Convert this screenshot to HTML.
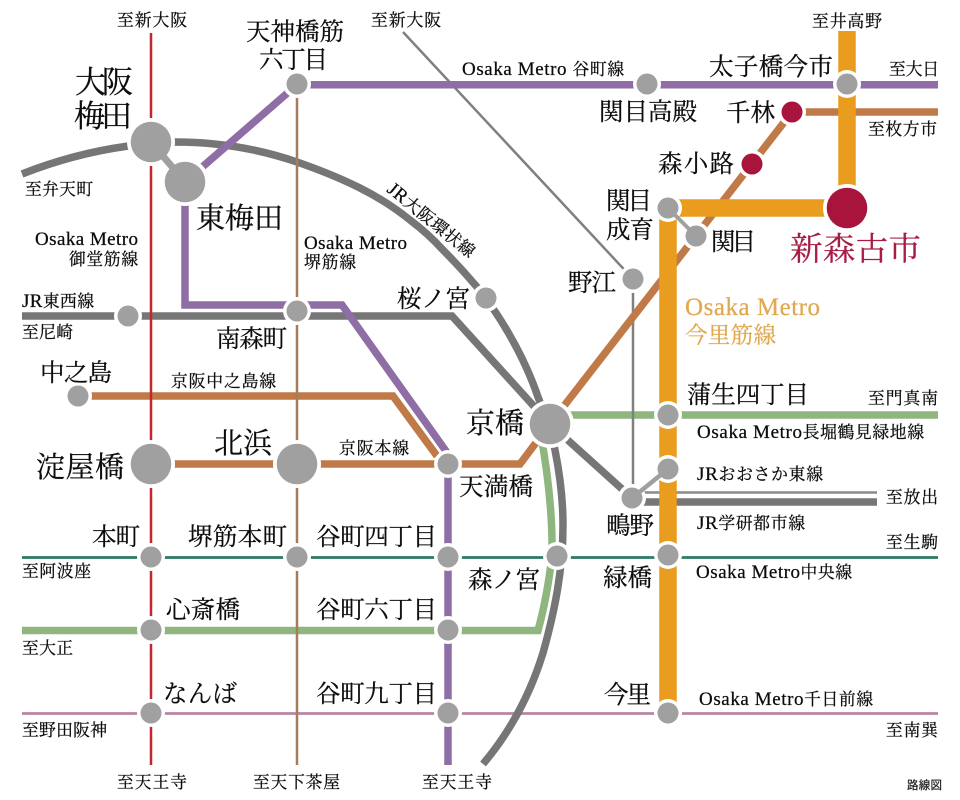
<!DOCTYPE html>
<html lang="ja"><head><meta charset="utf-8"><title>路線図</title>
<style>
html,body{margin:0;padding:0;background:#fff}
svg{display:block}
text{font-family:"Liberation Serif","Noto Serif CJK JP","Noto Serif CJK SC",serif;fill:#0c0c0c;stroke:#0c0c0c;stroke-width:.25px}
.s{font-size:16.8px}
.m{font-size:24.5px}
.l{font-size:29px}
.e{font-size:19px}
</style></head><body>
<svg xmlns="http://www.w3.org/2000/svg" width="960" height="800" viewBox="0 0 960 800">
<rect width="960" height="800" fill="#fff"/>
<g fill="none" stroke-linejoin="miter">
<path d="M22 557.5H938" stroke="#2c7a66" stroke-width="2.7"/>
<path d="M22 713.5H938" stroke="#b884a4" stroke-width="2.7"/>
<path d="M22 630.5H538 Q547 598 552 556 Q553 500 540 430" stroke="#8fb67f" stroke-width="7.5"/>
<path d="M550 415H938" stroke="#8fb67f" stroke-width="7.5"/>
<path d="M22 174C70 155 120 144 175 142C220 142 262 150 297 162C320 170 340 178 360 188C378 197 395 208 410 220C422 229 433 239 443 250C455 262 466 274 477 287C495 309 522 350 538 397C545 415 552 435 555 450C560 475 563 500 563 525C563 570 555 610 543 653C530 695 510 732 483 764" stroke="#767676" stroke-width="7.5"/>
<path d="M22 316H452L550 424L632 498" stroke="#767676" stroke-width="7.5"/>
<path d="M632 502H877" stroke="#767676" stroke-width="7.5"/>
<path d="M632 492.5H877" stroke="#8a8a8a" stroke-width="2.5"/>
<path d="M403 32L633 279V498" stroke="#808080" stroke-width="2.5"/>
<path d="M185 182L297 84.7H938" stroke="#8e6ea5" stroke-width="7.5"/>
<path d="M185 182V305H342L448 454V765" stroke="#8e6ea5" stroke-width="7.5"/>
<path d="M78 396H393L437 456" stroke="#c07a48" stroke-width="7.5"/>
<path d="M151 464H520L550 424L792 112H938" stroke="#c07a48" stroke-width="7.5"/>
<path d="M151 33V765" stroke="#c0282e" stroke-width="2.5"/>
<path d="M297 84V765" stroke="#a67c5b" stroke-width="2.5"/>
<path d="M847 31V208H668V713" stroke="#e99c1e" stroke-width="17.5"/>
</g>
<g fill="#fff">
<circle cx="151" cy="142" r="24"/><circle cx="185" cy="182" r="24"/><circle cx="297" cy="84" r="14"/><circle cx="647" cy="84" r="14"/><circle cx="847" cy="84" r="14"/><circle cx="792" cy="112" r="14"/><circle cx="752" cy="164" r="14"/><circle cx="847" cy="208" r="24"/><circle cx="668" cy="208" r="14"/><circle cx="696" cy="236" r="14"/><circle cx="633" cy="279" r="14"/><circle cx="486" cy="298" r="14"/><circle cx="128" cy="316" r="14"/><circle cx="297" cy="311" r="14"/><circle cx="78" cy="396" r="14"/><circle cx="550" cy="424" r="24"/><circle cx="668" cy="415" r="14"/><circle cx="151" cy="464" r="24"/><circle cx="297" cy="464" r="24"/><circle cx="448" cy="464" r="14"/><circle cx="668" cy="469" r="14"/><circle cx="632" cy="498" r="14"/><circle cx="151" cy="557" r="14"/><circle cx="297" cy="557" r="14"/><circle cx="448" cy="557" r="14"/><circle cx="557" cy="556" r="14"/><circle cx="668" cy="555" r="14"/><circle cx="151" cy="630" r="14"/><circle cx="448" cy="630" r="14"/><circle cx="151" cy="713" r="14"/><circle cx="448" cy="713" r="14"/><circle cx="668" cy="713" r="14"/>
</g>
<g fill="none">
<path d="M151 142L185 182" stroke="#a0a0a0" stroke-width="7"/>
<path d="M668 208L696 236" stroke="#a0a0a0" stroke-width="4"/>
<path d="M632 498L668 469" stroke="#a0a0a0" stroke-width="4.5"/>
</g>
<g fill="#a0a0a0">
<circle cx="151" cy="142" r="20.3"/><circle cx="185" cy="182" r="20.3"/><circle cx="297" cy="84" r="10.5"/><circle cx="647" cy="84" r="10.5"/><circle cx="847" cy="84" r="10.5"/><circle cx="668" cy="208" r="10.5"/><circle cx="696" cy="236" r="10.5"/><circle cx="633" cy="279" r="10.5"/><circle cx="486" cy="298" r="10.5"/><circle cx="128" cy="316" r="10.5"/><circle cx="297" cy="311" r="10.5"/><circle cx="78" cy="396" r="10.5"/><circle cx="550" cy="424" r="20.3"/><circle cx="668" cy="415" r="10.5"/><circle cx="151" cy="464" r="20.3"/><circle cx="297" cy="464" r="20.3"/><circle cx="448" cy="464" r="10.5"/><circle cx="668" cy="469" r="10.5"/><circle cx="632" cy="498" r="10.5"/><circle cx="151" cy="557" r="10.5"/><circle cx="297" cy="557" r="10.5"/><circle cx="448" cy="557" r="10.5"/><circle cx="557" cy="556" r="10.5"/><circle cx="668" cy="555" r="10.5"/><circle cx="151" cy="630" r="10.5"/><circle cx="448" cy="630" r="10.5"/><circle cx="151" cy="713" r="10.5"/><circle cx="448" cy="713" r="10.5"/><circle cx="668" cy="713" r="10.5"/>
</g>
<g fill="#a8143c"><circle cx="792" cy="112" r="10.5"/><circle cx="752" cy="164" r="10.5"/><circle cx="847" cy="208" r="20.3"/></g>

<text class="s" x="117" y="26" textLength="70">至新大阪</text>
<text class="m" x="246" y="40" textLength="98">天神橋筋</text>
<text class="m" x="259" y="68" textLength="69">六丁目</text>
<text class="s" x="371" y="26" textLength="70">至新大阪</text>
<text class="s" x="462" y="75" textLength="162"><tspan class="e">Osaka Metro </tspan>谷町線</text>
<text class="s" x="812" y="27" textLength="70">至井高野</text>
<text class="m" x="709" y="75" textLength="124">太子橋今市</text>
<text class="s" x="889" y="75" textLength="50">至大日</text>
<text class="m" x="599" y="120" textLength="98">関目高殿</text>
<text class="m" x="726" y="121" textLength="49">千林</text>
<text class="s" x="868" y="135" textLength="69">至枚方市</text>
<text class="m" x="658" y="172" textLength="76">森小路</text>
<text class="m" x="606" y="209" textLength="46">関目</text>
<text class="m" x="606" y="238" textLength="48">成育</text>
<text class="m" x="711" y="250" textLength="45">関目</text>
<text x="790" y="260" font-size="32.5" textLength="131" style="fill:#a71e45;stroke:#a71e45">新森古市</text>
<text x="685" y="315" font-size="25" textLength="135" style="fill:#e0a850;stroke:#e0a850">Osaka Metro</text>
<text x="685" y="343" font-size="22.5" textLength="91" style="fill:#e0a850;stroke:#e0a850">今里筋線</text>
<text class="m" x="568" y="291" textLength="48">野江</text>
<text class="m" x="687" y="403" textLength="122">蒲生四丁目</text>
<text class="s" x="868" y="404" textLength="70">至門真南</text>
<text class="s" x="697" y="438" textLength="227"><tspan class="e">Osaka Metro</tspan>長堀鶴見緑地線</text>
<text class="s" x="697" y="480" textLength="126"><tspan class="e">JR</tspan>おおさか東線</text>
<text class="s" x="886" y="503" textLength="52">至放出</text>
<text class="s" x="697" y="529" textLength="108"><tspan class="e">JR</tspan>学研都市線</text>
<text class="s" x="886" y="548" textLength="52">至生駒</text>
<text class="s" x="696" y="578" textLength="156"><tspan class="e">Osaka Metro</tspan>中央線</text>
<text class="m" x="606" y="534" textLength="48">鴫野</text>
<text class="m" x="603" y="586" textLength="49">緑橋</text>
<text class="m" x="604" y="703" textLength="47">今里</text>
<text class="s" x="699" y="705" textLength="174"><tspan class="e">Osaka Metro</tspan>千日前線</text>
<text class="s" x="886" y="736" textLength="52">至南巽</text>
<text x="907" y="789" font-size="11.5" textLength="35" style="font-family:'Noto Sans CJK JP','Liberation Sans',sans-serif;fill:#222;stroke:#222">路線図</text>
<text class="l" x="466" y="433" textLength="58">京橋</text>
<text class="m" x="459" y="495" textLength="74">天満橋</text>
<text class="m" x="468" y="588" textLength="72">森ノ宮</text>
<text class="m" x="397" y="307" textLength="73">桜ノ宮</text>
<text class="s" transform="translate(386 191) rotate(39)" x="0" y="0" textLength="107"><tspan class="e">JR</tspan>大阪環状線</text>
<text class="e" x="304" y="249" textLength="103">Osaka Metro</text>
<text class="s" x="304" y="268" textLength="52">堺筋線</text>
<text class="e" x="35" y="245" textLength="103">Osaka Metro</text>
<text class="s" x="69" y="265" textLength="69">御堂筋線</text>
<text x="75" y="93" font-size="31" textLength="58">大阪</text>
<text x="74" y="127" font-size="31" textLength="58">梅田</text>
<text class="l" x="196" y="228" textLength="87">東梅田</text>
<text class="s" x="25" y="195" textLength="68">至弁天町</text>
<text class="s" x="22" y="307" textLength="72"><tspan class="e">JR</tspan>東西線</text>
<text class="s" x="22" y="338" textLength="51">至尼崎</text>
<text class="m" x="216" y="347" textLength="71">南森町</text>
<text class="m" x="40" y="381" textLength="72">中之島</text>
<text class="s" x="171" y="387" textLength="105">京阪中之島線</text>
<text class="l" x="214" y="453" textLength="58">北浜</text>
<text class="l" x="36" y="477" textLength="88">淀屋橋</text>
<text class="s" x="339" y="454" textLength="70">京阪本線</text>
<text class="m" x="92" y="545" textLength="48">本町</text>
<text class="m" x="188" y="545" textLength="99">堺筋本町</text>
<text class="m" x="316" y="545" textLength="121">谷町四丁目</text>
<text class="s" x="22" y="577" textLength="69">至阿波座</text>
<text class="m" x="166" y="618" textLength="74">心斎橋</text>
<text class="m" x="316" y="618" textLength="121">谷町六丁目</text>
<text class="s" x="22" y="654" textLength="51">至大正</text>
<text class="m" x="163" y="702" textLength="74">なんば</text>
<text class="m" x="316" y="702" textLength="121">谷町九丁目</text>
<text class="s" x="22" y="736" textLength="85">至野田阪神</text>
<text class="s" x="117" y="788" textLength="70">至天王寺</text>
<text class="s" x="253" y="788" textLength="87">至天下茶屋</text>
<text class="s" x="422" y="788" textLength="70">至天王寺</text>
</svg>
</body></html>
